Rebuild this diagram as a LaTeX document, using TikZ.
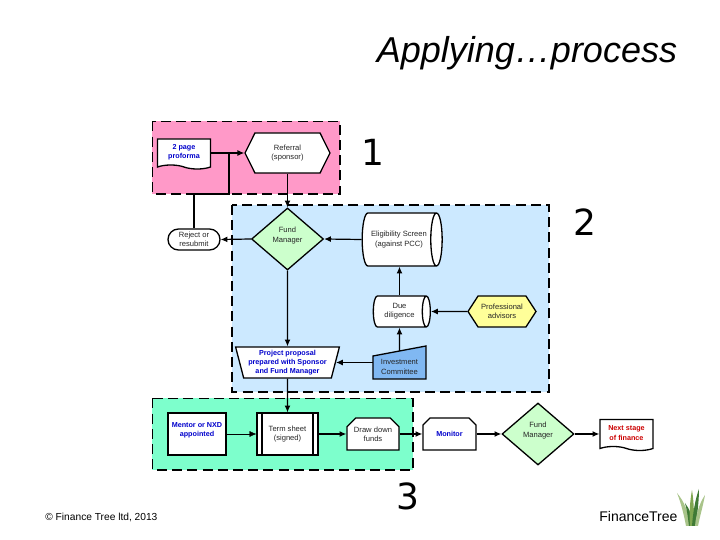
\documentclass[tikz,border=0pt]{standalone}
\usepackage{fontspec}
\setmainfont{Liberation Sans}
\newfontfamily\digitfont{DejaVu Sans}
\usetikzlibrary{arrows.meta,shapes.geometric,shapes.misc,shapes.symbols}
\definecolor{regionone}{HTML}{FF99C8}
\definecolor{regiontwo}{HTML}{CCE9FF}
\definecolor{regionthree}{HTML}{7DFFCC}
\definecolor{decide}{HTML}{CCFFCC}
\definecolor{advise}{HTML}{FFFF99}
\definecolor{commit}{HTML}{80B8F2}
\definecolor{bluetext}{HTML}{0000CC}
\definecolor{redtext}{HTML}{CC0000}
\definecolor{grassa}{HTML}{7FA650}
\definecolor{grassb}{HTML}{3F7A35}
\definecolor{grassc}{HTML}{A9C48A}
\tikzset{
  region/.style = {draw = black, line width = 0.8pt, dash pattern = on 5pt off 2.6pt},
  box/.style = {draw = black, fill = white, line width = 0.65pt, align = center, inner sep = 0pt,
    text = black!85, font = \fontsize{3.8}{4.6}\selectfont},
  boldblue/.style = {text = bluetext, font = \fontsize{3.6}{4.6}\selectfont\bfseries},
  boldred/.style = {text = redtext, font = \fontsize{3.6}{4.6}\selectfont\bfseries},
  hexa/.style = {box, signal, signal to = west and east},
  cut/.style = {box, chamfered rectangle, chamfered rectangle corners = {north east, north west},
    chamfered rectangle xsep = 2.2pt, chamfered rectangle ysep = 2.2pt},
  decision/.style = {box, diamond, fill = decide, minimum width = 36pt, minimum height = 31pt},
  drum/.style = {box, cylinder, cylinder uses custom fill, cylinder body fill = white, cylinder end fill = white},
  paper/.style = {box, tape, tape bend top = none, tape bend bottom = out and in, tape bend height = 2pt},
  link/.style = {line width = 0.6pt, -{Latex[length = 3.4pt, width = 3pt]}},
  number/.style = {font = \digitfont\fontsize{18}{20}\selectfont}
}
\begin{document}
\begin{tikzpicture}[x = 0.5pt, y = -0.5pt]
  \useasboundingbox (0,0) rectangle (720,540);
  % title
  \node at (527,53) (Title) {\fontsize{18}{20}\selectfont\itshape Applying…process};
  % coloured regions
  \draw[region, fill = regiontwo] (232,205) rectangle (549,392);
  \draw[region, fill = regionone] (152.5,121.5) rectangle (340,194);
  \draw[region, fill = regionthree] (152.5,398.5) rectangle (413,470);
  % numbers
  \node[number] at (373,152) (One) {1};
  \node[number] at (585,222) (Two) {2};
  \node[number] at (408,496) (Three) {3};
  % first region
  \node[paper, boldblue, minimum width = 26.5pt, minimum height = 15pt] at (184,152) (Proforma) {2 page\\proforma};
  \node[hexa, signal pointer angle = 127, minimum width = 42.5pt, minimum height = 20pt] at (287.5,153) (Referral) {Referral\\(sponsor)};
  % second region
  \node[decision] at (287.5,239) (Fund) {Fund\\Manager\\[-0.3pt]};
  \node[box, rounded rectangle, minimum width = 26pt, minimum height = 10.5pt] at (194,239.5) (Reject) {Reject or\\resubmit};
  \node[drum, aspect = 0.7, minimum height = 40pt, minimum width = 26.5pt] at (399,239.5) (Screen) {Eligibility Screen\\(against PCC)};
  \node[drum, aspect = 0.5, minimum height = 28.5pt, minimum width = 15.5pt] at (399.5,311.5) (Due) {Due\\diligence};
  \node[hexa, fill = advise, signal pointer angle = 114, minimum width = 34pt, minimum height = 15.5pt] at (502,311.5) (Advisors) {Professional\\advisors};
  \draw[box, fill = commit] (373,356) -- (426,346) -- (426,379) -- (373,379) -- cycle;
  \node[align = center, inner sep = 0pt, text = black!85, font = \fontsize{3.8}{4.6}\selectfont,
    minimum width = 26.5pt, minimum height = 12pt] at (399.5,367) (Committee) {Investment\\Committee};
  \coordinate (CommitteeTop) at (399.5,351);
  \node[box, boldblue, trapezium, trapezium stretches = true, shape border rotate = 180, trapezium left angle = 74,
    trapezium right angle = 74, minimum width = 52pt, minimum height = 15.5pt] at (287.5,362.5) (Proposal) {Project proposal\\prepared with Sponsor\\and Fund Manager};
  % third region
  \node[box, boldblue, minimum width = 29pt, minimum height = 21pt] at (197,434) (Mentor) {Mentor or NXD\\appointed\\[-0.1pt]};
  \node[box, minimum width = 30.5pt, minimum height = 21pt] at (287.5,434) (Term) {Term sheet\\(signed)};
  \draw[line width = 0.65pt] (262,413) -- (262,455);
  \draw[line width = 0.9pt] (313,413) -- (313,455);
  \node[cut, minimum width = 26pt, minimum height = 16pt] at (373,434) (Draw) {Draw down\\funds};
  % after the regions
  \node[cut, boldblue, minimum width = 26.5pt, minimum height = 16pt] at (449.5,434) (Monitor) {Monitor};
  \node[decision] at (538,434) (FundTwo) {Fund\\Manager\\[-0.3pt]};
  \node[paper, boldred, minimum width = 26.5pt, minimum height = 15.5pt] at (626.5,433) (Next) {Next stage\\of finance};
  % connectors
  \draw[link] (Proforma.east |- Referral.west) -- (Referral.west);
  \coordinate (Join) at (229,153);
  \coordinate (Bend) at (229,194);
  \draw[line width = 0.75pt] (Reject.north) |- (Bend) -- (Join);
  \draw[link] (Referral.south) -- (Fund.north);
  \draw[link] (Fund.west) -- (Reject.east);
  \draw[link] (Screen.west) -- (Fund.east);
  \draw[link] (Fund.south) -- (Proposal.north);
  \draw[link] (Due.north) -- (Screen.south -| Due.north);
  \draw[link] (CommitteeTop) -- (Due.south);
  \draw[link] (Advisors.west) -- (Due.east);
  \draw[link] (Committee.west |- Proposal.east) -- (Proposal.east);
  \draw[link] (Proposal.south) -- (Term.north);
  \draw[link, line width = 0.2pt] (Mentor.east) -- (Term.west);
  \draw[link] (Term.east) -- (Draw.west);
  \draw[link] (Draw.east) -- (Monitor.west);
  \draw[link] (Monitor.east) -- (FundTwo.west);
  \draw[link] (FundTwo.east) -- (FundTwo.east -| Next.west);
  % footer
  \node[anchor = west, inner sep = 0pt] at (45,517) (Copy) {\fontsize{5.1}{6}\selectfont © Finance Tree ltd, 2013};
  \node[anchor = west, inner sep = 0pt] at (599,516) (Logo) {\fontsize{7}{8}\selectfont FinanceTree};
  % grass
  \fill[grassc] (686,526) .. controls (684,515) and (681,503) .. (677,493) .. controls (684,501) and (689,513) .. (690,526) -- cycle;
  \fill[grassb] (689,526) .. controls (688,518) and (687,510) .. (685,503) .. controls (690,509) and (692,517) .. (693,526) -- cycle;
  \fill[grassa] (690,526) .. controls (689,513) and (690,501) .. (692,490) .. controls (694,502) and (694,514) .. (694,526) -- cycle;
  \fill[grassb] (692,526) .. controls (693,513) and (695,500) .. (699,489) .. controls (699,502) and (697,515) .. (696,526) -- cycle;
  \fill[grassc] (695,526) .. controls (696,515) and (699,504) .. (705,495) .. controls (703,506) and (700,516) .. (698,526) -- cycle;
\end{tikzpicture}
\end{document}
